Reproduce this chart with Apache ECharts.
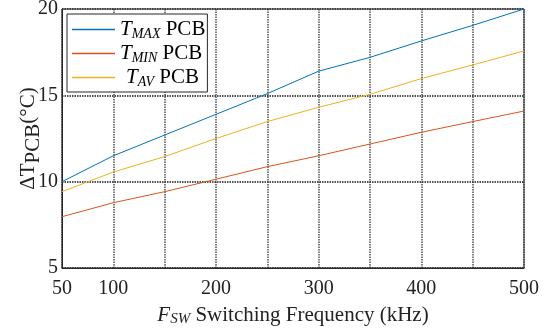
<!DOCTYPE html>
<html>
<head>
<meta charset="utf-8">
<script src="https://cdn.jsdelivr.net/npm/echarts@6/dist/echarts.min.js"></script>
<style>
  html, body { margin: 0; padding: 0; background: #fff; }
  #chart { width: 547px; height: 330px; }
</style>
</head>
<body>
<div id="chart"></div>
<script>
// switching frequency (kHz)
const freqs = [50, 100, 150, 200, 250, 300, 350, 400, 450, 500]
// delta T of the PCB (°C)
const tMax = [10.0, 11.5, 12.7, 13.9, 15.1, 16.4, 17.2, 18.15, 19.05, 20.0]
const tMin = [7.97, 8.78, 9.42, 10.14, 10.87, 11.5, 12.18, 12.86, 13.48, 14.09]
const tAv = [9.42, 10.56, 11.45, 12.5, 13.48, 14.31, 15.06, 15.97, 16.76, 17.57]
const xTickLabels = [50, 100, 200, 300, 400, 500]

const font = 'Liberation Serif'
const pairs = (ys) => freqs.map((f, i) => [f, ys[i]])

const legendText = {
  TMAX: '{t|T}{s|MAX}{p| PCB}',
  TMIN: '{t|T}{s|MIN}{p| PCB}',
  TAV: '{q|T}{s|AV}{p| PCB}'
}

const dotted = (w) => ({
  show: true,
  lineStyle: { color: '#333', type: [1.5, 1], width: w, opacity: 0.85 }
})

const myChart = echarts.init(document.getElementById('chart'))
myChart.setOption({
  animation: false,
  color: ['#0072BD', '#D95319', '#EDB120'],
  textStyle: { fontFamily: font },
  grid: {
    left: 62,
    right: 23,
    top: 9,
    bottom: 62,
    containLabel: false,
    outerBoundsMode: 'none',
    show: true,
    borderColor: '#262626',
    borderWidth: 1
  },
  legend: {
    orient: 'vertical',
    left: 67,
    top: 14,
    padding: [4, 2, 3, 5],
    itemGap: 1,
    itemWidth: 43,
    itemHeight: 1.5,
    icon: 'rect',
    backgroundColor: '#fff',
    borderColor: '#262626',
    borderWidth: 1,
    borderRadius: 0,
    formatter: (name) => legendText[name],
    textStyle: {
      fontFamily: font,
      color: '#000',
      rich: {
        t: { fontSize: 21, fontStyle: 'italic', fontFamily: font, lineHeight: 24 },
        q: { fontSize: 21, fontStyle: 'italic', fontFamily: font, lineHeight: 24, padding: [0, 0, 0, 6] },
        s: { fontSize: 14, fontStyle: 'italic', fontFamily: font, lineHeight: 24, padding: [9, 0, 0, 0] },
        p: { fontSize: 21, fontFamily: font, lineHeight: 24 }
      }
    }
  },
  xAxis: {
    type: 'value',
    min: 50,
    max: 500,
    interval: 50,
    axisLine: { show: true, lineStyle: { color: '#262626' } },
    axisTick: { show: false },
    splitLine: dotted(1.5),
    axisLabel: {
      margin: 11,
      fontSize: 20,
      fontFamily: font,
      color: '#222',
      showMinLabel: true,
      showMaxLabel: true,
      formatter: (v) => (xTickLabels.includes(v) ? String(v) : '')
    },
    name: '{f|F}{s|SW}{n| Switching Frequency (kHz)}',
    nameLocation: 'middle',
    nameMoveOverlap: false,
    nameGap: 35,
    nameTextStyle: {
      color: '#222',
      rich: {
        f: { fontSize: 21, fontStyle: 'italic', fontFamily: font },
        s: { fontSize: 15, fontStyle: 'italic', fontFamily: font, padding: [9, 0, 0, 0] },
        n: { fontSize: 21, fontFamily: font }
      }
    }
  },
  yAxis: {
    type: 'value',
    min: 5,
    max: 20,
    interval: 5,
    axisLine: { show: true, lineStyle: { color: '#262626' } },
    axisTick: { show: false },
    splitLine: dotted(2),
    axisLabel: {
      margin: 4,
      fontSize: 20,
      fontFamily: font,
      color: '#222'
    },
    name: '{a|ΔT}{b|PCB}{a|(°C)}',
    nameLocation: 'middle',
    nameMoveOverlap: false,
    nameRotate: 90,
    nameGap: 18,
    nameTextStyle: {
      color: '#222',
      rich: {
        a: { fontSize: 21, fontFamily: font },
        b: { fontSize: 21, fontFamily: font, padding: [10, 0, 0, 0] }
      }
    }
  },
  series: [
    { name: 'TMAX', type: 'line', symbol: 'none', lineStyle: { width: 1 }, data: pairs(tMax) },
    { name: 'TMIN', type: 'line', symbol: 'none', lineStyle: { width: 1 }, data: pairs(tMin) },
    { name: 'TAV', type: 'line', symbol: 'none', lineStyle: { width: 1 }, data: pairs(tAv) }
  ]
})
</script>
</body>
</html>
